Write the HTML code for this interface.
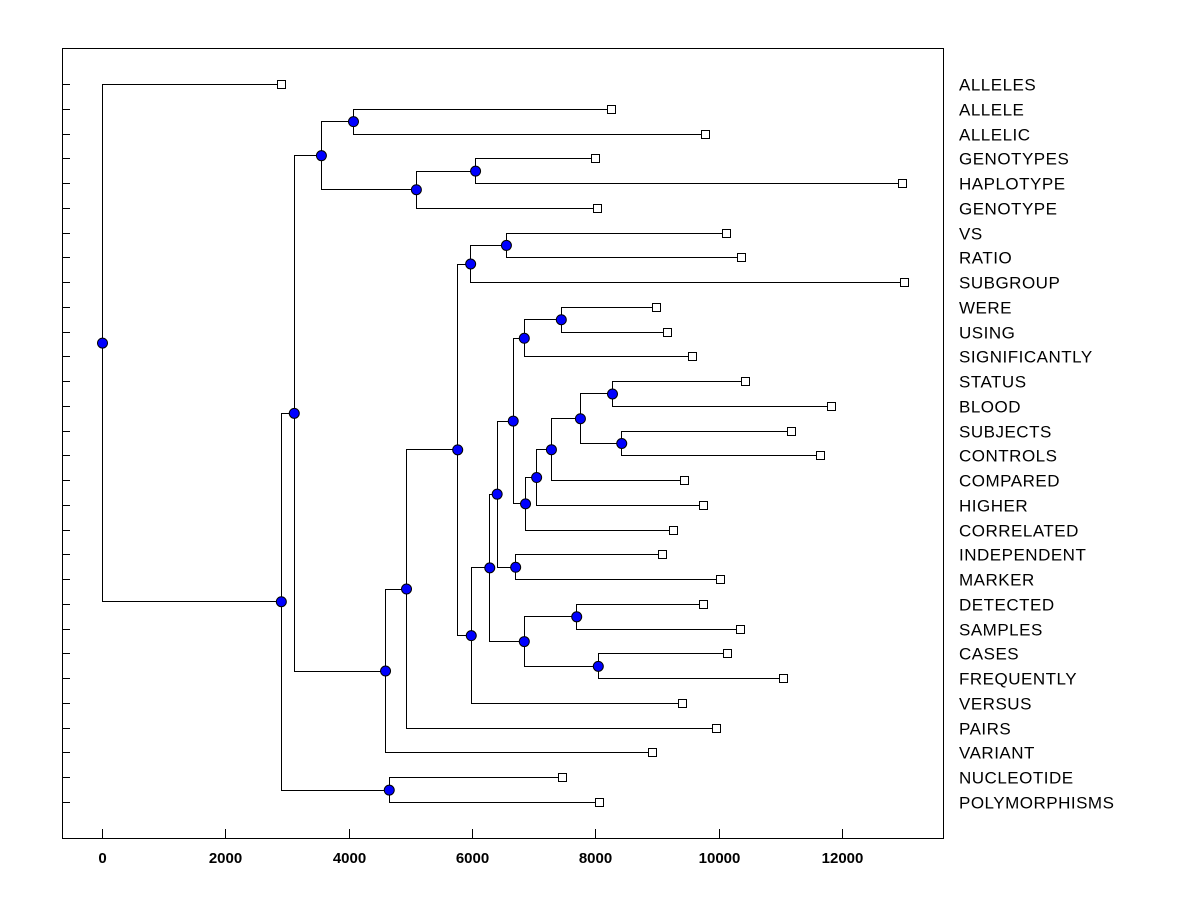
<!DOCTYPE html>
<html><head><meta charset="utf-8"><style>
html,body{margin:0;padding:0;background:#fff;}
svg{display:block;font-family:"Liberation Sans",Arial,sans-serif;}
</style></head><body>
<svg id="chart" width="1200" height="900" xmlns="http://www.w3.org/2000/svg"></svg>
<script>
const leafNames = ["ALLELES","ALLELE","ALLELIC","GENOTYPES","HAPLOTYPE","GENOTYPE","VS","RATIO","SUBGROUP","WERE","USING","SIGNIFICANTLY","STATUS","BLOOD","SUBJECTS","CONTROLS","COMPARED","HIGHER","CORRELATED","INDEPENDENT","MARKER","DETECTED","SAMPLES","CASES","FREQUENTLY","VERSUS","PAIRS","VARIANT","NUCLEOTIDE","POLYMORPHISMS"];
const leafValues = [2900,8250,9780,8000,12980,8030,10120,10370,13000,8980,9160,9570,10430,11820,11180,11650,9430,9750,9260,9080,10020,9740,10340,10130,11040,9400,9950,8920,7460,8060];
const mergeLeft = [1,3,31,30,6,34,9,36,12,14,38,40,41,42,37,19,44,21,23,47,46,50,35,52,53,33,28,55,0];
const mergeRight = [2,4,5,32,7,8,10,11,13,15,39,16,17,18,43,20,45,22,24,48,49,25,51,26,27,54,29,56,57];
const mergeHeights = [4070,6050,5090,3550,6550,5970,7440,6840,8270,8420,7750,7280,7040,6860,6660,6700,6400,7690,8040,6840,6280,5980,5760,4930,4590,3110,4650,2900,0];
const xTicks = [0,2000,4000,6000,8000,10000,12000];

const NS = "http://www.w3.org/2000/svg";
const svg = document.getElementById("chart");
const plotL = 62, plotR = 943, plotT = 48, plotB = 838;
const xScale = v => 102 + v * (842 - 102) / 12000;
const rowY = i => 84 + i * (802 - 84) / 29;

function mk(tag, attrs, parent) {
  const e = document.createElementNS(NS, tag);
  for (const k in attrs) e.setAttribute(k, attrs[k]);
  (parent || svg).appendChild(e);
  return e;
}

const frame = mk("rect", {x: plotL + 0.5, y: plotT + 0.5, width: plotR - plotL, height: plotB - plotT, fill: "none", stroke: "#000", "stroke-width": 1});



xTicks.forEach(t => {
  const x = Math.round(xScale(t)) + 0.5;
  const tk = mk("line", {x1: x, x2: x, y1: plotB, y2: plotB - 9, stroke: "#000"});
  
  
  const lb = mk("text", {x: x, y: 863, "text-anchor": "middle", "font-size": 15, "font-weight": "bold", fill: "#000"});
  lb.textContent = t;
  
  
});

const nx = [], ny = [];
leafValues.forEach((v, i) => { nx[i] = xScale(v); ny[i] = rowY(i); });
mergeHeights.forEach((h, k) => {
  const id = leafNames.length + k;
  nx[id] = xScale(h);
  ny[id] = (ny[mergeLeft[k]] + ny[mergeRight[k]]) / 2;
});

leafNames.forEach((n, i) => {
  const y = Math.round(rowY(i)) + 0.5;
  const tk = mk("line", {x1: plotL, x2: plotL + 8, y1: y, y2: y, stroke: "#000"});
  
  
  const lb = mk("text", {x: 959, y: y + 6, "font-size": 17, "letter-spacing": 0.5, fill: "#000"});
  lb.textContent = n;
  
  
});

mergeHeights.forEach((h, k) => {
  const id = leafNames.length + k;
  const x = Math.round(nx[id]) + 0.5;
  const a = mergeLeft[k], b = mergeRight[k];
  const ya = Math.round(ny[a]) + 0.5, yb = Math.round(ny[b]) + 0.5;
  const p = mk("path", {d: `M${Math.round(nx[a])},${ya} H${x} V${yb} H${Math.round(nx[b])}`, fill: "none", stroke: "#000", "stroke-width": 1});
  
  
});

leafValues.forEach((v, i) => {
  const r = mk("rect", {x: Math.round(nx[i]) - 3.5, y: Math.round(ny[i]) - 3.5, width: 8, height: 8, fill: "#fff", stroke: "#000"});
  
  
});

mergeHeights.forEach((h, k) => {
  const id = leafNames.length + k;
  const c = mk("circle", {cx: nx[id] + 0.5, cy: ny[id] + 0.5, r: 5, fill: "#0000ff", stroke: "#000", "stroke-width": 1});
  
  
});
</script>
</body></html>
